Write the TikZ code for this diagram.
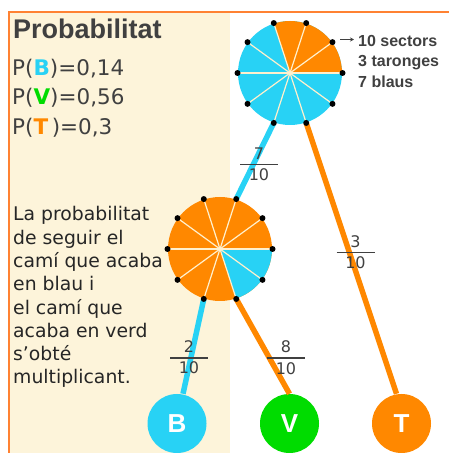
\documentclass[tikz,border=0pt]{standalone}
\usepackage{fontspec}
\setmainfont{DejaVu Sans}
\newfontfamily\arialfont{Liberation Sans}
\usetikzlibrary{arrows.meta}
\definecolor{skyBlue}{RGB}{40,210,245}
\definecolor{pieOrange}{RGB}{255,136,0}
\definecolor{leafGreen}{RGB}{0,220,0}
\definecolor{creamBg}{RGB}{253,244,218}
\definecolor{frameOrange}{RGB}{255,130,50}
\definecolor{inkGray}{RGB}{64,64,64}
\definecolor{spokeCream}{RGB}{255,240,205}

% fraccio amb barra
\newcommand{\fr}[2]{\vbox{\hbox to 38pt{\hss#1\hss}\kern4.5pt\hrule height 1.4pt\kern3.5pt\hbox to 38pt{\hss#2\hss}}}

\begin{document}
\begin{tikzpicture}[x=1pt, y=1pt,
    branch/.style={line width=5.5pt},
    spoke/.style={spokeCream, line width=1.2pt},
    leaf/.style={circle, minimum size=59pt, inner sep=0pt, text=white,
      font=\arialfont\bfseries\fontsize{26}{26}\selectfont},
    fracnum/.style={inner sep=0pt, text=inkGray, font=\fontsize{16}{16}\selectfont}]

  % 0. FONS I MARC
  \useasboundingbox (0,0) rectangle (449,453);
  \fill[creamBg] (9,0) rectangle (230,441);
  \draw[frameOrange, line width=1.6pt] (9,0) -- (9,441) -- (449,441);

  % 1. TEXTOS (base = darrera linia)
  \node[anchor=base west, inner sep=0pt, text=inkGray,
    font=\arialfont\bfseries\fontsize{27}{27}\selectfont] (title) at (13,414) {Probabilitat};
  \node[anchor=base west, inner sep=0pt, align=left, text=inkGray,
    font=\fontsize{21.5}{29.5}\selectfont] (probs) at (12,318.5)
    {P(\textbf{\color{skyBlue}B})=0,14\\P(\textbf{\color{leafGreen}V})=0,56\\P(\textbf{\color{pieOrange}T}\,)=0,3};
  \node[anchor=base west, inner sep=0pt, align=left, text=black!85,
    font=\fontsize{18.8}{23.3}\selectfont] (rule) at (13,69)
    {La probabilitat\\de seguir el\\camí que acaba\\en blau i\\el camí que\\acaba en verd\\s’obté\\multiplicant.};
  \node[anchor=base west, inner sep=0pt, align=left, text=inkGray,
    font=\arialfont\bfseries\fontsize{16}{20.3}\selectfont] (info) at (358,365.7)
    {10 sectors\\3 taronges\\7 blaus};
  \coordinate (arrowTail) at (340,413.5);
  \coordinate (arrowTip) at (354,413.5);
  \draw[inkGray, line width=1pt, -{Stealth[length=4pt, width=4pt]}] (arrowTail) -- (arrowTip);

  % 2. RODES (10 sectors cadascuna)
  \coordinate (top) at (290,380);
  \coordinate (mid) at (220,204);
  \foreach \k in {0,...,9} {
    \path (top) ++(\k*36:52.5) coordinate (top-\k);
    \path (mid) ++(\k*36:52.5) coordinate (mid-\k);
  }
  % roda de dalt: 3 taronges, 7 blaus
  \fill[skyBlue] (top) circle (52);
  \fill[pieOrange] (top) -- ++(0:52) arc (0:108:52) -- cycle;
  % roda del mig: 8 taronges, 2 blaus
  \fill[pieOrange] (mid) circle (52);
  \fill[skyBlue] (mid) -- ++(-72:52) arc (-72:0:52) -- cycle;
  \foreach \k in {0,...,9} {
    \draw[spoke] (top) -- (top-\k);
    \draw[spoke] (mid) -- (mid-\k);
  }

  % 3. RESULTATS
  \node[leaf, fill=skyBlue] (B) at (177,29.5) {B};
  \node[leaf, fill=leafGreen] (V) at (289.5,29.5) {V};
  \node[leaf, fill=pieOrange] (T) at (401.5,29.5) {T};

  % 4. BRANQUES
  \draw[branch, skyBlue] (top-7) -- (mid-2);
  \draw[branch, pieOrange] (top-8) -- ([xshift=-5pt]T.north);
  \draw[branch, skyBlue] (mid-7) -- ([xshift=6pt]B.north);
  \draw[branch, pieOrange] (mid-8) -- (V.north);
  \foreach \k in {0,...,9} {
    \fill (top-\k) circle (3);
    \fill (mid-\k) circle (3);
  }

  % 5. PROBABILITATS DE CADA BRANCA
  \node[fracnum] (pBlue) at (259,289) {\fr{7}{10}};
  \node[fracnum] (pOrange) at (355.5,200.7) {\fr{3}{10}};
  \node[fracnum] (pB) at (189,95.5) {\fr{2}{10}};
  \node[fracnum] (pV) at (286,95.5) {\fr{8}{10}};
\end{tikzpicture}
\end{document}
